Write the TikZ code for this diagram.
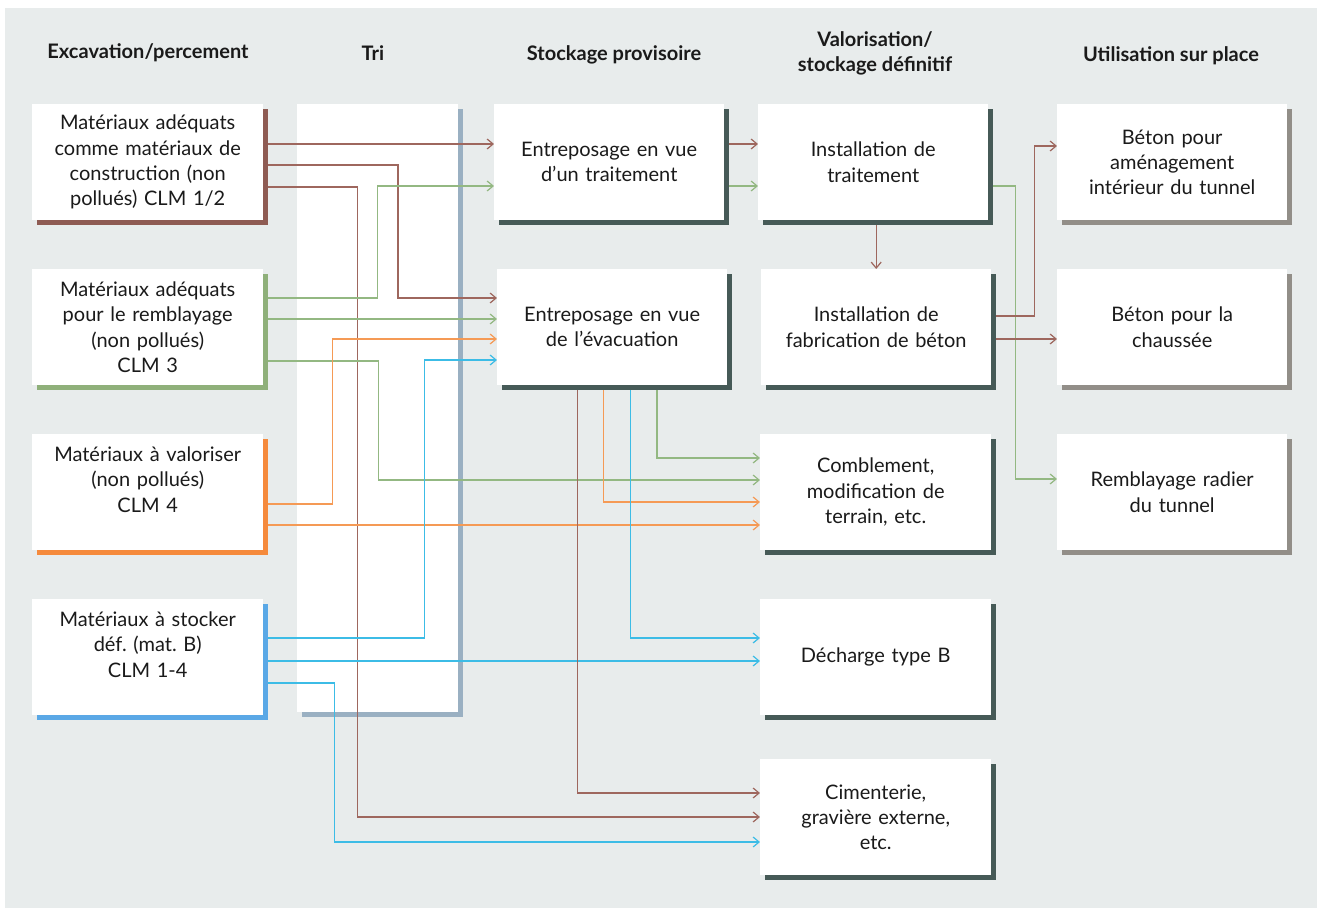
\documentclass[tikz,border=0pt]{standalone}
\usepackage{fontspec}
\setmainfont{Lato}
\usetikzlibrary{arrows.meta,calc}
\frenchspacing

\definecolor{paper}{HTML}{E8ECEC}
\definecolor{ink}{HTML}{1A1A1A}
\definecolor{brownc}{HTML}{8E5B53}
\definecolor{greenc}{HTML}{8FB07A}
\definecolor{orangec}{HTML}{F58A3C}
\definecolor{bluec}{HTML}{5AA8E6}
\definecolor{tric}{HTML}{9AB0C2}
\definecolor{darkc}{HTML}{465A57}
\definecolor{greyc}{HTML}{928E88}
\definecolor{wbrown}{HTML}{9E675E}
\definecolor{wgreen}{HTML}{93B882}
\definecolor{worange}{HTML}{F59A55}
\definecolor{wblue}{HTML}{3CBCE6}

\newcommand\cardfont{\fontsize{20}{25.3}\selectfont}
\newcommand\headfont{\fontsize{20}{25}\selectfont\bfseries}

\pgfdeclarelayer{bglayer}
\pgfdeclarelayer{wires}
\pgfsetlayers{bglayer,wires,main}

\tikzset{
  card/.style={fill=white, inner sep=0pt, minimum width=231pt, minimum height=116pt,
    text width=226pt, align=center, anchor=north west, font=\cardfont, text=ink,
    preaction={fill=#1, transform canvas={shift={(5pt,-5pt)}}}},
  head/.style={font=\headfont, text=ink, align=center, inner sep=0pt},
  wire/.style={line width=1.2pt, draw=#1,
    -{Straight Barb[length=6pt,width=10pt]}},
}

\begin{document}
\begin{tikzpicture}[x=1pt,y=-1pt]
\useasboundingbox (0,0) rectangle (1317,908);

\begin{pgfonlayer}{bglayer}
  \fill[white] (0,0) rectangle (1317,908);
  \fill[paper] (5,8) rectangle (1317,908);
  % sorting column
  \node[card=tric, minimum width=161pt, minimum height=608pt, text width=150pt] (T) at (297,104) {};
\end{pgfonlayer}

% column headings
\node[head] (h1) at (148,53) {Excavation/percement};
\node[head] (h2) at (373,53) {Tri};
\node[head] (h3) at (614,55) {Stockage provisoire};
\node[head] (h4) at (875,53.5) {Valorisation/\\stockage définitif};
\node[head] (h5) at (1171,56) {Utilisation sur place};

% excavated material classes
\node[card=brownc]  (L1) at (32,104) {Matériaux adéquats\\comme matériaux de\\construction (non\\pollués) CLM 1/2};
\node[card=greenc]  (L2) at (32,269) {Matériaux adéquats\\pour le remblayage\\(non pollués)\\CLM 3};
\node[card=orangec] (L3) at (32,434) {Matériaux à valoriser\\(non pollués)\\CLM 4\\\mbox{}};
\node[card=bluec]   (L4) at (32,599) {Matériaux à stocker\\déf. (mat. B)\\CLM 1-4\\\mbox{}};

% temporary storage
\node[card=darkc, minimum width=230pt] (S1) at (494,104) {Entreposage en vue\\d’un traitement};
\node[card=darkc, minimum width=230pt] (S2) at (497,269) {Entreposage en vue\\de l’évacuation};

% recovery / final storage
\node[card=darkc, minimum width=230pt] (V1) at (758,104) {Installation de\\traitement};
\node[card=darkc, minimum width=230pt] (V2) at (761,269) {Installation de\\fabrication de béton};
\node[card=darkc] (V3) at (760,434) {Comblement,\\modification de\\terrain, etc.};
\node[card=darkc] (V4) at (760,599) {Décharge type B};
\node[card=darkc] (V5) at (760,759) {Cimenterie,\\gravière externe,\\etc.};

% on-site use
\node[card=greyc, minimum width=230pt] (U1) at (1057,104) {Béton pour\\aménagement\\intérieur du tunnel};
\node[card=greyc, minimum width=230pt] (U2) at (1057,269) {Béton pour la\\chaussée};
\node[card=greyc, minimum width=230pt] (U3) at (1057,434) {Remblayage radier\\du tunnel};

\begin{pgfonlayer}{wires}
  % CLM 1/2
  \draw[wire=wbrown] ([yshift=-40pt]L1.north east) -- ([yshift=-40pt]S1.north west);
  \draw[wire=wbrown] ([yshift=-61pt]L1.north east) -- ++(134.5,0) |- ([yshift=-29pt]S2.north west);
  \draw[wire=wbrown] ([yshift=-83pt]L1.north east) -- ++(94,0) |- ([yshift=-58pt]V5.north west);
  % CLM 3
  \draw[wire=wgreen] ([yshift=-29pt]L2.north east) -- ++(113.7,0) |- ([yshift=-82pt]S1.north west);
  \draw[wire=wgreen] ([yshift=-50pt]L2.north east) -- ([yshift=-50pt]S2.north west);
  \draw[wire=wgreen] ([yshift=-92pt]L2.north east) -- ++(114.7,0) |- ([yshift=-46pt]V3.north west);
  % CLM 4
  \draw[wire=worange] ([yshift=-70pt]L3.north east) -- ++(69.3,0) |- ([yshift=-70pt]S2.north west);
  \draw[wire=worange] ([yshift=-91pt]L3.north east) -- ([yshift=-91pt]V3.north west);
  % CLM 1-4
  \draw[wire=wblue] ([yshift=-39pt]L4.north east) -- ++(161.3,0) |- ([yshift=-91pt]S2.north west);
  \draw[wire=wblue] ([yshift=-62pt]L4.north east) -- ([yshift=-62pt]V4.north west);
  \draw[wire=wblue] ([yshift=-84pt]L4.north east) -- ++(71,0) |- ([yshift=-83pt]V5.north west);
  % from temporary storage for treatment
  \draw[wire=wbrown] ([yshift=-40pt]S1.north east) -- ([yshift=-40pt]V1.north west);
  \draw[wire=wgreen] ([yshift=-82pt]S1.north east) -- ([yshift=-82pt]V1.north west);
  % from temporary storage for removal
  \draw[wire=wbrown] ([xshift=-34.7pt]S2.south) |- ([yshift=-34pt]V5.north west);
  \draw[wire=worange] ([xshift=-8.7pt]S2.south) |- ([yshift=-68pt]V3.north west);
  \draw[wire=wblue] ([xshift=18pt]S2.south) |- ([yshift=-39pt]V4.north west);
  \draw[wire=wgreen] ([xshift=44.7pt]S2.south) |- ([yshift=-24pt]V3.north west);
  % treatment plant
  \draw[wire=wbrown] (V1.south -| V2.north) -- (V2.north);
  \draw[wire=wgreen] ([yshift=-82pt]V1.north east) -- ++(27,0) |- ([yshift=-45pt]U3.north west);
  % concrete plant
  \draw[wire=wbrown] ([yshift=-47pt]V2.north east) -- ++(43.3,0) |- ([yshift=-42pt]U1.north west);
  \draw[wire=wbrown] ([yshift=-70pt]V2.north east) -- ([yshift=-70pt]U2.north west);
\end{pgfonlayer}
\end{tikzpicture}
\end{document}
